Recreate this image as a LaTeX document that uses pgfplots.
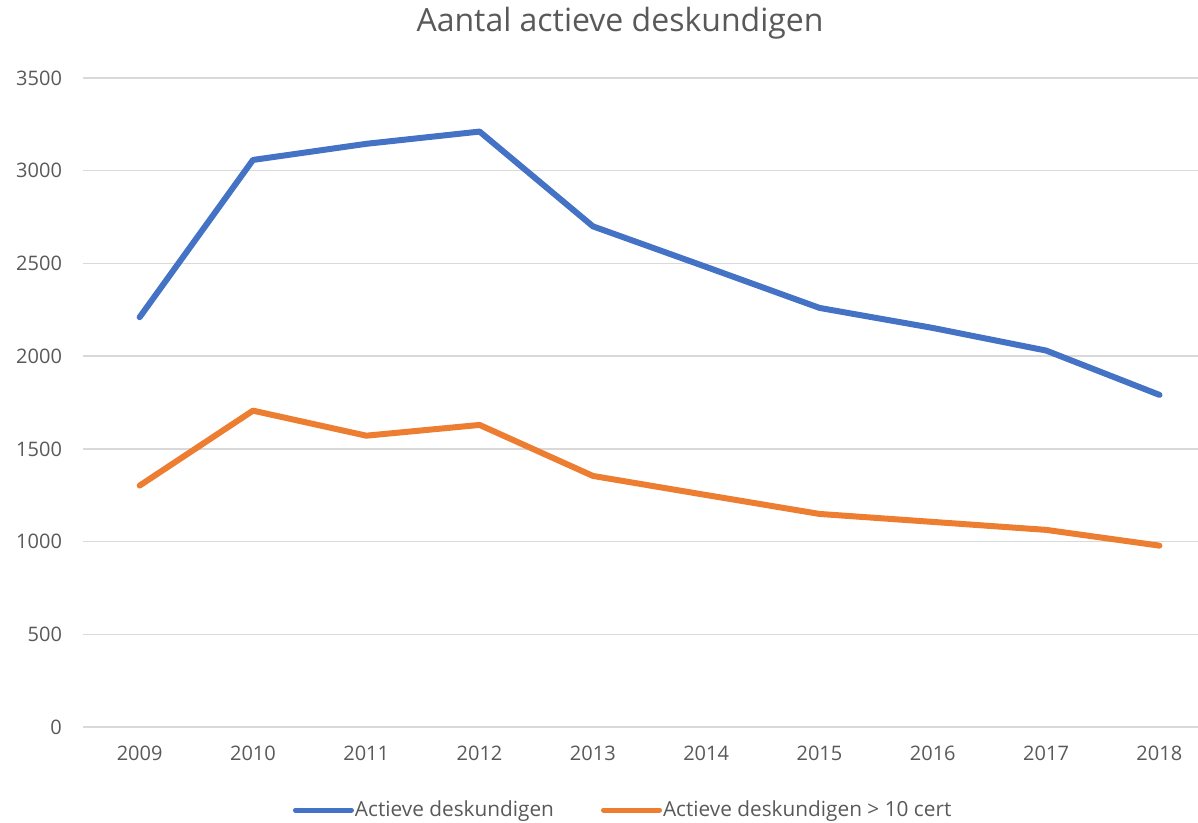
\documentclass[border=0pt]{standalone}
\usepackage{pgfplots}
\pgfplotsset{compat=1.18}
\usepackage{fontspec}
\setmainfont{Open Sans}
\definecolor{cblue}{HTML}{4472C4}
\definecolor{corange}{HTML}{ED7D31}
\definecolor{cgrid}{HTML}{D9D9D9}
\definecolor{ctext}{HTML}{595959}
\begin{document}
\begin{tikzpicture}
\useasboundingbox (0pt,0pt) rectangle (599pt,411.5pt);
\node[font=\fontsize{16}{18}\selectfont, text=ctext] at (310pt,400pt) {Aantal actieve deskundigen};
\begin{axis}[
  at={(41.5pt,48pt)}, anchor=south west,
  scale only axis,
  width=557.5pt, height=324.5pt,
  xmin=2008.5, xmax=2018.34,
  ymin=0, ymax=3500,
  xtick={2009,...,2018},
  ytick={0,500,...,3500},
  /pgf/number format/1000 sep={},
  /pgf/number format/assume math mode=true,
  ymajorgrids, grid style={cgrid, line width=0.7pt},
  axis x line*=bottom,
  x axis line style={draw=cgrid, line width=0.7pt, -},
  axis y line*=left,
  y axis line style={draw=none},
  major tick length=0pt,
  tick label style={font=\fontsize{10}{12}\selectfont, text=ctext},
  yticklabel style={xshift=-7pt},
  xticklabel style={yshift=-6pt},
  legend style={at={(0.484,-0.128)}, anchor=center, draw=none, fill=none,
    font=\fontsize{10.4}{12}\selectfont, text=ctext, legend columns=2,
    nodes={inner xsep=0.5pt},
    /tikz/every odd column/.append style={column sep=0pt},
    /tikz/every even column/.append style={column sep=23pt}},
  legend image code/.code={\draw[#1, line width=2.5pt, line cap=round] (0pt,0pt) -- (28pt,0pt);},
]
\addplot[cblue, line width=3pt, line cap=round, line join=round] coordinates {
 (2009,2210) (2010,3058) (2011,3145) (2012,3211) (2013,2700)
 (2014,2481) (2015,2260) (2016,2152) (2017,2030) (2018,1791)};
\addlegendentry{Actieve deskundigen}
\addplot[corange, line width=3pt, line cap=round, line join=round] coordinates {
 (2009,1302) (2010,1706) (2011,1571) (2012,1629) (2013,1354)
 (2014,1251) (2015,1149) (2016,1106) (2017,1063) (2018,978)};
\addlegendentry{Actieve deskundigen > 10 cert}
\end{axis}
\end{tikzpicture}
\end{document}
